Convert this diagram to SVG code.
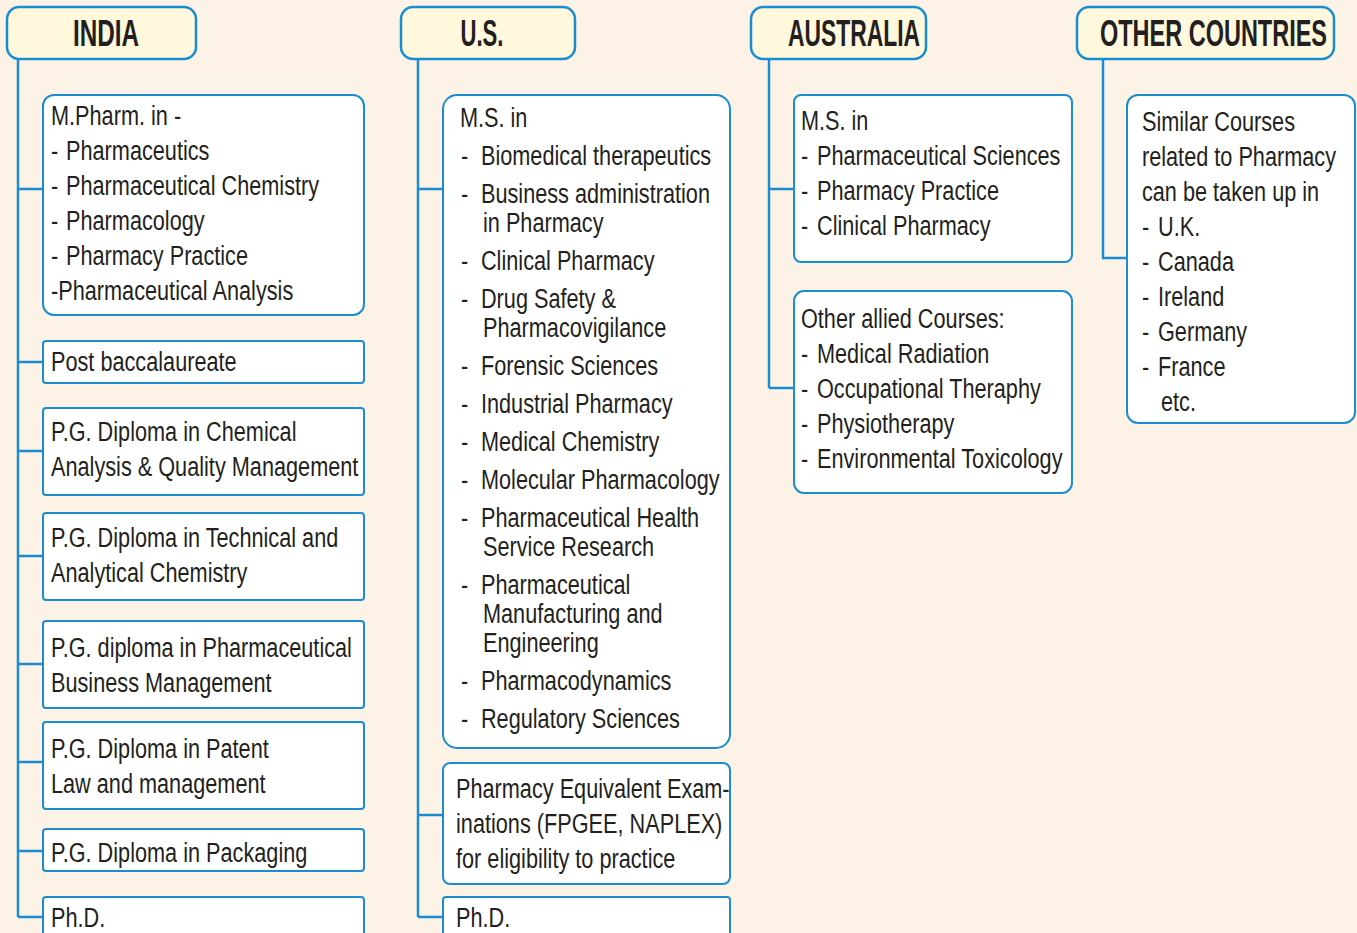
<svg xmlns="http://www.w3.org/2000/svg" width="1357" height="933" viewBox="0 0 1357 933">
<style>
.bg{fill:#fdf2e6}
.hdr{fill:#fff8dc;stroke:#1a8dd0;stroke-width:2.5}
.box{fill:#ffffff;stroke:#1a8dd0;stroke-width:2}
.ln{fill:none;stroke:#1a8dd0;stroke-width:2.5}
.h{font-family:"Liberation Sans",Arial,sans-serif;font-weight:bold;font-size:36px;fill:#231f20}
.t{font-family:"Liberation Sans",Arial,sans-serif;font-size:28px;fill:#231f20}
</style>
<rect class="bg" x="0" y="0" width="1357" height="933"/>

<g id="connectors">
  <path class="ln" d="M18 59V917M18 189H43M18 362H43M18 451H43M18 556H43M18 664H43M18 762H43M18 851H43M18 917H43"/>
  <path class="ln" d="M418 59V917M418 189H443M418 815H443M418 917H443"/>
  <path class="ln" d="M769 59V388M769 189H794M769 388H794"/>
  <path class="ln" d="M1103 59V258H1127"/>
</g>

<g id="hdr-india">
  <rect class="hdr" x="7" y="7" width="189" height="52" rx="12"/>
  <text class="h" x="106" y="46" text-anchor="middle" textLength="66" lengthAdjust="spacingAndGlyphs">INDIA</text>
</g>
<g id="hdr-us">
  <rect class="hdr" x="401" y="7" width="174" height="52" rx="12"/>
  <text class="h" x="482" y="46" text-anchor="middle" textLength="43" lengthAdjust="spacingAndGlyphs">U.S.</text>
</g>
<g id="hdr-australia">
  <rect class="hdr" x="751" y="7" width="175" height="52" rx="12"/>
  <text class="h" x="788" y="46" textLength="132" lengthAdjust="spacingAndGlyphs">AUSTRALIA</text>
</g>
<g id="hdr-other">
  <rect class="hdr" x="1077" y="7" width="257" height="52" rx="12"/>
  <text class="h" x="1100" y="46" textLength="227" lengthAdjust="spacingAndGlyphs">OTHER COUNTRIES</text>
</g>

<g id="india-mpharm">
  <rect class="box" x="43" y="95" width="321" height="220" rx="11"/>
  <g transform="scale(0.775,1)">
  <text class="t" x="65.8" y="125">M.Pharm. in -</text>
  <text class="t" x="65.8" y="160">-<tspan x="85.2">Pharmaceutics</tspan></text>
  <text class="t" x="65.8" y="195">-<tspan x="85.2">Pharmaceutical Chemistry</tspan></text>
  <text class="t" x="65.8" y="230">-<tspan x="85.2">Pharmacology</tspan></text>
  <text class="t" x="65.8" y="265">-<tspan x="85.2">Pharmacy Practice</tspan></text>
  <text class="t" x="65.8" y="300">-Pharmaceutical Analysis</text>
  </g>
</g>
<g id="india-postbac">
  <rect class="box" x="43" y="341" width="321" height="42" rx="3"/>
  <g transform="scale(0.775,1)"><text class="t" x="65.8" y="371">Post baccalaureate</text></g>
</g>
<g id="india-pgd-chem">
  <rect class="box" x="43" y="408" width="321" height="87" rx="3"/>
  <g transform="scale(0.775,1)">
  <text class="t" x="65.8" y="441">P.G. Diploma in Chemical</text>
  <text class="t" x="65.8" y="476">Analysis &amp; Quality Management</text>
  </g>
</g>
<g id="india-pgd-tech">
  <rect class="box" x="43" y="513" width="321" height="87" rx="3"/>
  <g transform="scale(0.775,1)">
  <text class="t" x="65.8" y="547">P.G. Diploma in Technical and</text>
  <text class="t" x="65.8" y="582">Analytical Chemistry</text>
  </g>
</g>
<g id="india-pgd-bm">
  <rect class="box" x="43" y="621" width="321" height="87" rx="3"/>
  <g transform="scale(0.775,1)">
  <text class="t" x="65.8" y="657">P.G. diploma in Pharmaceutical</text>
  <text class="t" x="65.8" y="692">Business Management</text>
  </g>
</g>
<g id="india-pgd-patent">
  <rect class="box" x="43" y="722" width="321" height="87" rx="3"/>
  <g transform="scale(0.775,1)">
  <text class="t" x="65.8" y="758">P.G. Diploma in Patent</text>
  <text class="t" x="65.8" y="793">Law and management</text>
  </g>
</g>
<g id="india-pgd-pack">
  <rect class="box" x="43" y="829" width="321" height="42" rx="3"/>
  <g transform="scale(0.775,1)"><text class="t" x="65.8" y="862">P.G. Diploma in Packaging</text></g>
</g>
<g id="india-phd">
  <rect class="box" x="43" y="897" width="321" height="60" rx="3"/>
  <g transform="scale(0.775,1)"><text class="t" x="65.8" y="927">Ph.D.</text></g>
</g>

<g id="us-ms">
  <rect class="box" x="443" y="95" width="287" height="653" rx="14"/>
  <g transform="scale(0.775,1)">
  <text class="t" x="593.5" y="127">M.S. in</text>
  <text class="t" x="594.8" y="165">-<tspan x="620.6">Biomedical therapeutics</tspan></text>
  <text class="t" x="594.8" y="203">-<tspan x="620.6">Business administration</tspan></text>
  <text class="t" x="623.2" y="232">in Pharmacy</text>
  <text class="t" x="594.8" y="270">-<tspan x="620.6">Clinical Pharmacy</tspan></text>
  <text class="t" x="594.8" y="308">-<tspan x="620.6">Drug Safety &amp;</tspan></text>
  <text class="t" x="623.2" y="337">Pharmacovigilance</text>
  <text class="t" x="594.8" y="375">-<tspan x="620.6">Forensic Sciences</tspan></text>
  <text class="t" x="594.8" y="413">-<tspan x="620.6">Industrial Pharmacy</tspan></text>
  <text class="t" x="594.8" y="451">-<tspan x="620.6">Medical Chemistry</tspan></text>
  <text class="t" x="594.8" y="489">-<tspan x="620.6">Molecular Pharmacology</tspan></text>
  <text class="t" x="594.8" y="527">-<tspan x="620.6">Pharmaceutical Health</tspan></text>
  <text class="t" x="623.2" y="556">Service Research</text>
  <text class="t" x="594.8" y="594">-<tspan x="620.6">Pharmaceutical</tspan></text>
  <text class="t" x="623.2" y="623">Manufacturing and</text>
  <text class="t" x="623.2" y="652">Engineering</text>
  <text class="t" x="594.8" y="690">-<tspan x="620.6">Pharmacodynamics</tspan></text>
  <text class="t" x="594.8" y="728">-<tspan x="620.6">Regulatory Sciences</tspan></text>
  </g>
</g>
<g id="us-equiv">
  <rect class="box" x="443" y="763" width="287" height="121" rx="7"/>
  <g transform="scale(0.775,1)">
  <text class="t" x="588.4" y="798">Pharmacy Equivalent Exam-</text>
  <text class="t" x="588.4" y="833">inations (FPGEE, NAPLEX)</text>
  <text class="t" x="588.4" y="868">for eligibility to practice</text>
  </g>
</g>
<g id="us-phd">
  <rect class="box" x="443" y="897" width="287" height="60" rx="3"/>
  <g transform="scale(0.775,1)"><text class="t" x="588.4" y="927">Ph.D.</text></g>
</g>

<g id="aus-ms">
  <rect class="box" x="794" y="95" width="278" height="167" rx="7"/>
  <g transform="scale(0.775,1)">
  <text class="t" x="1033.5" y="130">M.S. in</text>
  <text class="t" x="1033.5" y="165">-<tspan x="1054.2">Pharmaceutical Sciences</tspan></text>
  <text class="t" x="1033.5" y="200">-<tspan x="1054.2">Pharmacy Practice</tspan></text>
  <text class="t" x="1033.5" y="235">-<tspan x="1054.2">Clinical Pharmacy</tspan></text>
  </g>
</g>
<g id="aus-allied">
  <rect class="box" x="794" y="291" width="278" height="202" rx="10"/>
  <g transform="scale(0.775,1)">
  <text class="t" x="1033.5" y="328">Other allied Courses:</text>
  <text class="t" x="1033.5" y="363">-<tspan x="1054.2">Medical Radiation</tspan></text>
  <text class="t" x="1033.5" y="398">-<tspan x="1054.2">Occupational Theraphy</tspan></text>
  <text class="t" x="1033.5" y="433">-<tspan x="1054.2">Physiotherapy</tspan></text>
  <text class="t" x="1033.5" y="468">-<tspan x="1054.2">Environmental Toxicology</tspan></text>
  </g>
</g>

<g id="other-box">
  <rect class="box" x="1127" y="95" width="228" height="328" rx="11"/>
  <g transform="scale(0.775,1)">
  <text class="t" x="1473.5" y="131">Similar Courses</text>
  <text class="t" x="1473.5" y="166">related to Pharmacy</text>
  <text class="t" x="1473.5" y="201">can be taken up in</text>
  <text class="t" x="1473.5" y="236">-<tspan x="1494.2">U.K.</tspan></text>
  <text class="t" x="1473.5" y="271">-<tspan x="1494.2">Canada</tspan></text>
  <text class="t" x="1473.5" y="306">-<tspan x="1494.2">Ireland</tspan></text>
  <text class="t" x="1473.5" y="341">-<tspan x="1494.2">Germany</tspan></text>
  <text class="t" x="1473.5" y="376">-<tspan x="1494.2">France</tspan></text>
  <text class="t" x="1498.1" y="411">etc.</text>
  </g>
</g>
</svg>
